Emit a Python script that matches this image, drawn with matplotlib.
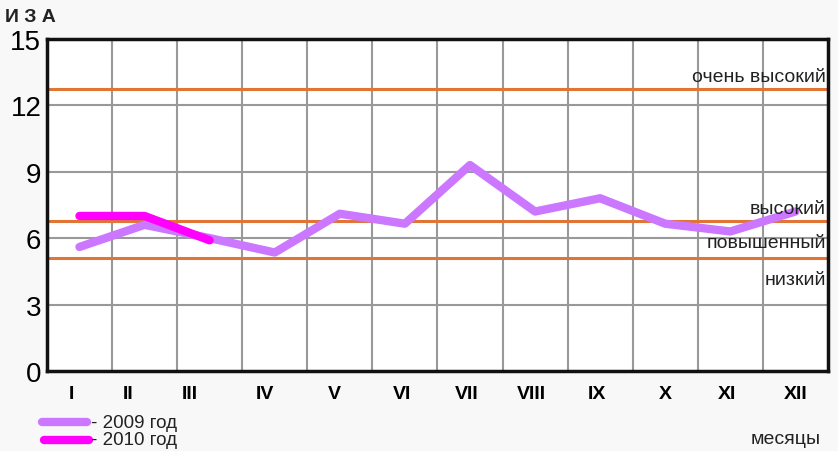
import matplotlib.pyplot as plt
import numpy as np

plt.rcParams['font.family'] = ['Liberation Sans', 'DejaVu Sans']

months = ['I', 'II', 'III', 'IV', 'V', 'VI', 'VII', 'VIII', 'IX', 'X', 'XI', 'XII']
iza_2009 = [5.6, 6.6, 6.0, 5.35, 7.1, 6.65, 9.3, 7.2, 7.8, 6.65, 6.3, 7.2]
iza_2010 = [7.0, 7.0, 5.9]
levels = [12.75, 6.75, 5.1]
level_names = ['очень высокий', 'высокий', 'повышенный', 'низкий']
level_text_y = [13.3, 7.35, 5.8, 4.15]

bg = '#f8f8f8'
fig = plt.figure(figsize=(8.38, 4.52), dpi=100, facecolor=bg)
ax = fig.add_axes([0.056, 0.177, 0.932, 0.735], facecolor='white')

x = np.arange(len(months)) + 0.5
ax.set_xlim(0, 12)
ax.set_ylim(0, 15)

for v in range(1, 12):
    ax.axvline(v, color='#999999', lw=1.5, zorder=1)
for v in [3, 6, 9, 12]:
    ax.axhline(v, color='#999999', lw=1.5, zorder=1)
for v in levels:
    ax.axhline(v, color='#e07535', lw=2.2, zorder=2)

ax.plot(x, iza_2009, color='#cc77ff', lw=6, solid_capstyle='round', zorder=3)
ax.plot(x[:len(iza_2010)], iza_2010, color='#ff00ff', lw=6, solid_capstyle='round', zorder=4)

for name, yy in zip(level_names, level_text_y):
    ax.text(11.97, yy, name, ha='right', va='center', fontsize=14, color='#222222', zorder=5)

for s in ax.spines.values():
    s.set_linewidth(2.5)
    s.set_color('#111111')

ax.set_yticks([0, 3, 6, 9, 12, 15])
ax.tick_params(axis='y', length=0, labelsize=20, pad=4)
ax.set_xticks(x - np.array([0.12, 0.25, 0.3, 0.15, 0.08, 0.05, 0.05, 0.05, 0.05, 0.0, 0.05, 0.0]))
ax.set_xticklabels(months, fontweight='bold')
ax.tick_params(axis='x', length=0, labelsize=14, pad=10)

fig.text(0.006, 0.962, 'И З А', fontsize=14, fontweight='bold', ha='left', va='center', color='#222222')
fig.text(0.937, 0.027, 'месяцы', fontsize=14, ha='center', va='center', color='#222222')

# легенда
fig.add_artist(plt.Line2D([0.05, 0.104], [0.064, 0.064], color='#cc77ff', lw=6, solid_capstyle='round'))
fig.add_artist(plt.Line2D([0.052, 0.106], [0.025, 0.025], color='#ff00ff', lw=6, solid_capstyle='round'))
fig.text(0.108, 0.064, '- 2009 год', fontsize=13.5, va='center', color='#222222')
fig.text(0.108, 0.025, '- 2010 год', fontsize=13.5, va='center', color='#222222')

fig.savefig('out.png', dpi=100, facecolor=bg)
